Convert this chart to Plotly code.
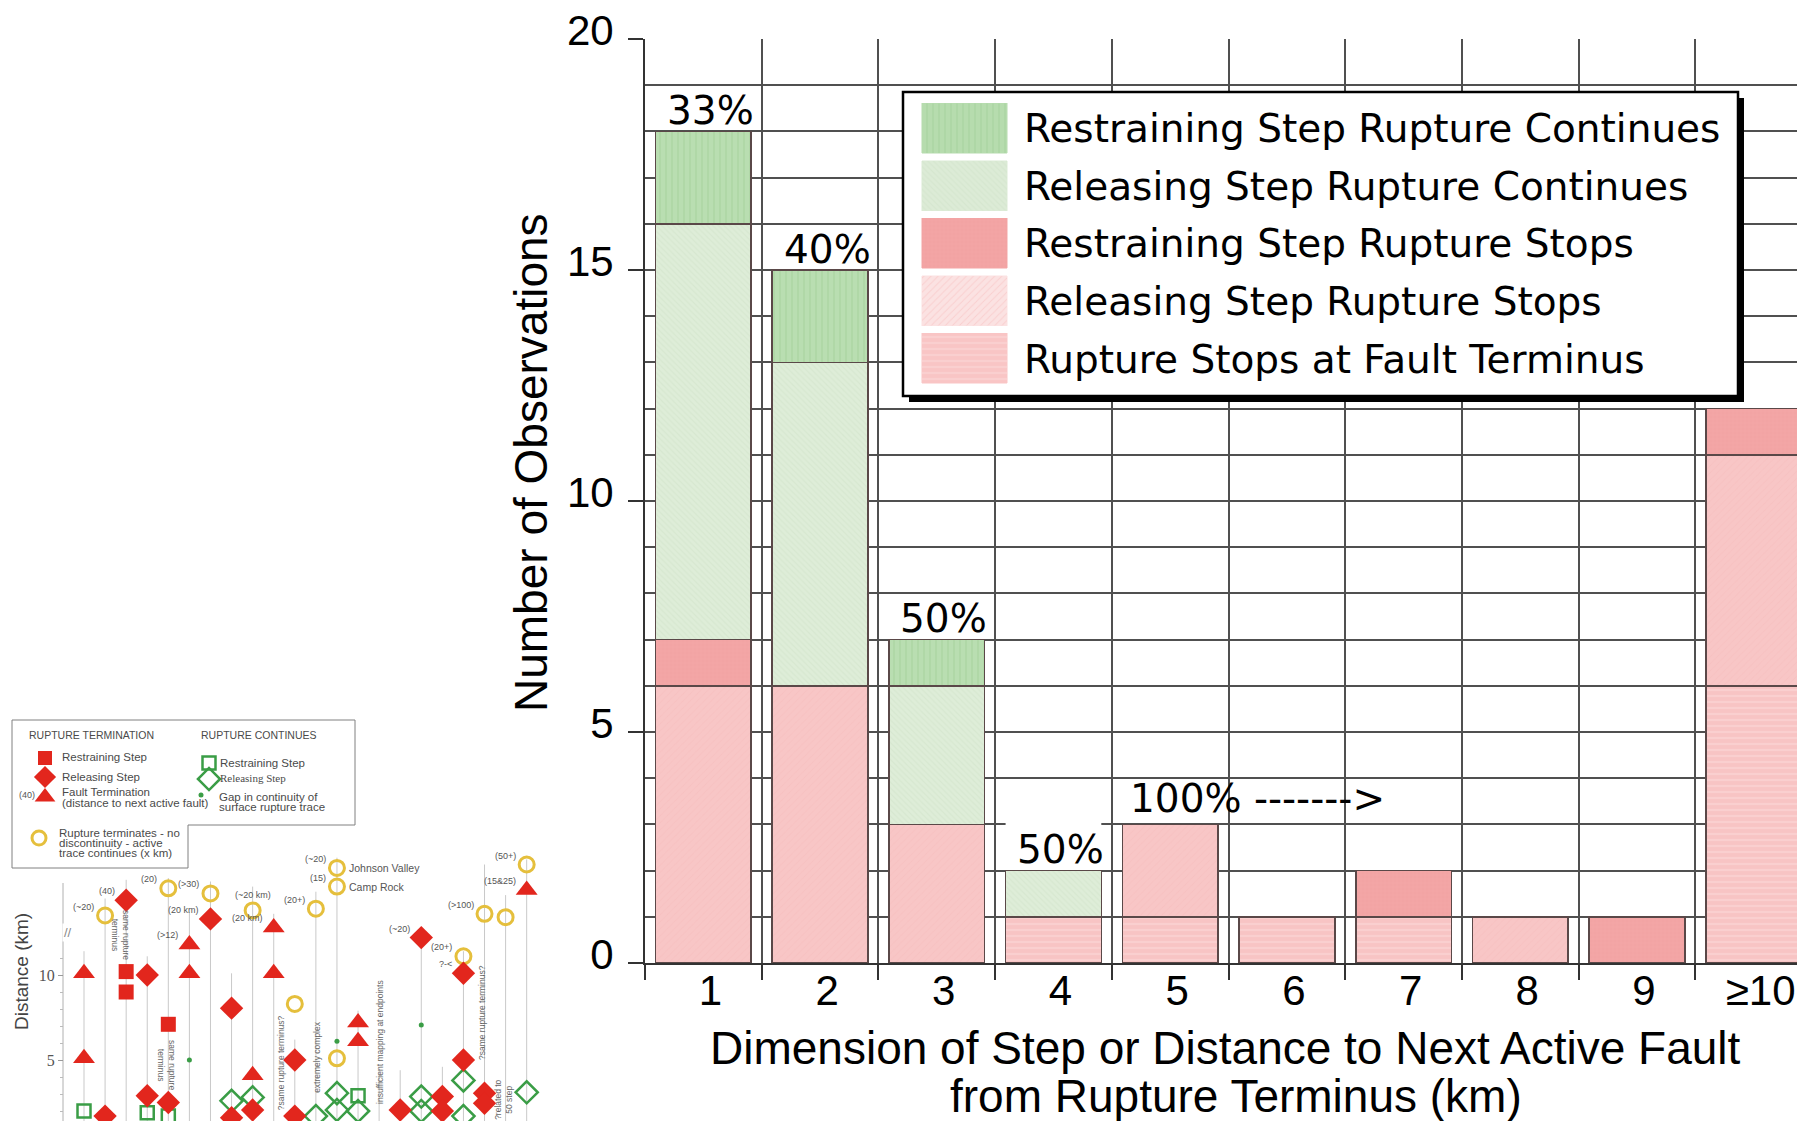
import plotly.graph_objects as go

W, H = 1805, 1121
OFF = 8  # the page body margin shifts the figure by 8 px; coordinates below are page pixels

# ---------------- main chart data ----------------
categories = ["1", "2", "3", "4", "5", "6", "7", "8", "9", "≥10"]
series_names = ["Restraining Step Rupture Continues", "Releasing Step Rupture Continues",
                "Restraining Step Rupture Stops", "Releasing Step Rupture Stops",
                "Rupture Stops at Fault Terminus"]
restraining_continues = [2, 2, 1, 0, 0, 0, 0, 0, 0, 0]
releasing_continues = [9, 7, 3, 1, 0, 0, 0, 0, 0, 0]
restraining_stops = [1, 0, 0, 0, 0, 0, 1, 0, 1, 1]
releasing_stops = [6, 6, 3, 0, 2, 0, 0, 1, 0, 5]
fault_terminus = [0, 0, 0, 1, 1, 1, 1, 0, 0, 6]
pct_labels = ["33%", "40%", "50%", "50%", "100% ------->"]
pct_categories = ["1", "2", "3", "4", "5"]
y_ticks = [0, 5, 10, 15, 20]

# ---------------- inset chart data (distance, km) ----------------
n_cols = 22
line_tops = [11.4, 14.5, 15.6, 11.1, 15.7, 13.7, 15.5, 10.1, 15.2, 13.6, 6.2,
             14.9, 16.9, 7.9, 4.5, 4.4, 12.7, 4.6, 11.4, 16.5, 14.7, 16.8]
term_restraining_col = [3, 3, 5]
term_restraining_km = [10.2, 9.0, 7.1]
term_releasing_col = [2, 3, 4, 4, 5, 7, 8, 8, 9, 11, 11, 16, 17, 18, 18, 19, 19, 20, 20]
term_releasing_km = [1.7, 14.4, 10.0, 2.9, 2.5, 13.3, 8.05, 1.6, 2.06, 5.0, 1.7, 2.06,
                     12.2, 2.85, 2.0, 10.1, 5.0, 3.04, 2.45]
fault_term_col = [1, 1, 6, 6, 9, 10, 10, 14, 14, 22]
fault_term_km = [10.1, 5.1, 11.8, 10.1, 4.1, 12.8, 10.1, 7.2, 6.1, 15.0]
no_disc_col = [2, 5, 7, 9, 11, 12, 13, 13, 13, 19, 20, 21, 22]
no_disc_km = [13.5, 15.1, 14.8, 13.8, 8.3, 13.9, 16.3, 15.2, 5.1, 11.1, 13.6, 13.4, 16.5]
cont_restraining_col = [1, 4, 5, 14]
cont_restraining_km = [2.0, 1.9, 1.7, 2.9]
cont_releasing_col = [8, 9, 12, 13, 13, 14, 17, 17, 19, 19, 22]
cont_releasing_km = [2.6, 2.8, 1.7, 3.05, 2.06, 2.0, 2.85, 2.0, 3.8, 1.7, 3.1]
gap_col = [6, 13, 17]
gap_km = [5.0, 6.1, 7.06]
marker_notes = ["(~20)", "(40)", "(20)", "(>12)", "(>30)", "(20 km)", "(~20 km)", "(20 km)",
                "(20+)", "(~20)", "(15)", "(~20)", "(20+)", "?-<", "(>100)", "(15&25)", "(50+)"]
note_col = [2, 3, 5, 6, 7, 7, 9, 10, 12, 13, 13, 17, 19, 19, 20, 22, 22]
note_km = [13.5, 14.4, 15.1, 11.8, 14.8, 13.3, 13.8, 12.8, 13.9, 16.3, 15.2, 12.2, 11.1,
           10.1, 13.6, 15.0, 16.5]
note_above = [False, False, False, False, False, False, True, False, False, False, False,
              False, False, False, False, False, False]
site_names = ["Johnson Valley", "Camp Rock"]
site_col = [13, 13]
site_km = [16.3, 15.2]
comments = ["same rupture<br>terminus", "same rupture<br>terminus", "?same rupture terminus?",
            "extremely complex", "insufficient mapping at endpoints",
            "?same rupture terminus?", "?related to<br>50 step"]
comment_col = [2.76, 4.94, 10.35, 12.05, 15.04, 19.88, 20.92]
comment_km = [12.35, 4.7, 4.82, 5.18, 6.06, 7.82, 2.65]
comment_angle = [90, 90, -90, -90, -90, -90, -90]
inset_yticks = [5, 10]

# ---------------- helpers ----------------
def px(x):
    return (x - OFF) / W


def py(y):
    return 1 - (y - OFF) / H


# main plot geometry (page pixels)
MX0, CAT = 645, 116.7
MY0, MY1 = 963, 39
# inset geometry (page pixels)
COL1_X, COL_DX = 84.0, 21.08
KM0_Y, KM_DY = 1145.0, 17.0


def icol(xp):
    return 1 + (xp - COL1_X) / COL_DX


def ikm(yp):
    return (KM0_Y - yp) / KM_DY


fig = go.Figure()

edge = "#5a4848"
styles = {
    "Rupture Stops at Fault Terminus": dict(color="#f8c4c4", shape="-", fg="#fbd9d9", size=6, sol=0.35),
    "Releasing Step Rupture Stops": dict(color="#f8c6c6", shape="/", fg="#f6bdbd", size=5, sol=0.2),
    "Restraining Step Rupture Stops": dict(color="#f3a6a6", shape="+", fg="#ec9797", size=4, sol=0.25),
    "Releasing Step Rupture Continues": dict(color="#deedd8", shape="\\", fg="#cfe2c8", size=4, sol=0.3),
    "Restraining Step Rupture Continues": dict(color="#b9deb1", shape="|", fg="#a4d19b", size=6, sol=0.3),
}
legend_swatch_color = {
    "Rupture Stops at Fault Terminus": "#f9c5c5",
    "Releasing Step Rupture Stops": "#fbe2e2",
    "Restraining Step Rupture Stops": "#f3a5a5",
    "Releasing Step Rupture Continues": "#dcebd6",
    "Restraining Step Rupture Continues": "#b6dcae",
}

stack = [("Rupture Stops at Fault Terminus", fault_terminus),
         ("Releasing Step Rupture Stops", releasing_stops),
         ("Restraining Step Rupture Stops", restraining_stops),
         ("Releasing Step Rupture Continues", releasing_continues),
         ("Restraining Step Rupture Continues", restraining_continues)]

for name, vals in stack:
    st = styles[name]
    fig.add_trace(go.Bar(
        x=categories, y=[v if v else None for v in vals], name=name, width=0.82,
        marker=dict(color=st["color"], line=dict(color=edge, width=1.6),
                    pattern=dict(shape=st["shape"], fgcolor=st["fg"], bgcolor=st["color"],
                                 size=st["size"], solidity=st["sol"])),
        xaxis="x", yaxis="y", showlegend=False, hoverinfo="skip"))

totals = [sum(v) for v in zip(fault_terminus, releasing_stops, restraining_stops,
                               releasing_continues, restraining_continues)]

annotations = []
shapes = []
for lab, cat in zip(pct_labels, pct_categories):
    i = categories.index(cat)
    if lab.startswith("100%"):
        annotations.append(dict(x=i - 0.36, y=totals[i] + 0.57, xref="x", yref="y", text=lab,
                                showarrow=False, xanchor="left", yanchor="middle",
                                font=dict(family="DejaVu Sans", size=39, color="black")))
    else:
        annotations.append(dict(x=i + 0.06, y=totals[i] + 0.45, xref="x", yref="y", text=lab,
                                showarrow=False, xanchor="center", yanchor="middle",
                                font=dict(family="DejaVu Sans", size=39, color="black")))
# white box behind the 50% label of bar 4
i4 = categories.index("4")
shapes.append(dict(type="rect", xref="x", yref="y", x0=i4 - 0.41, x1=i4 + 0.41,
                   y0=totals[i4], y1=totals[i4] + 1.25, fillcolor="white",
                   line=dict(width=0), layer="between"))

# axis titles
annotations.append(dict(x=px(531), y=py(463), xref="paper", yref="paper",
                        text="Number of Observations", textangle=-90, showarrow=False,
                        xanchor="center", yanchor="middle",
                        font=dict(family="Liberation Sans, Arial", size=46, color="black")))
annotations.append(dict(x=px(1225), y=py(1020), xref="paper", yref="paper",
                        text="Dimension of Step or Distance to Next Active Fault",
                        showarrow=False, xanchor="center", yanchor="top",
                        font=dict(family="Liberation Sans, Arial", size=46, color="black")))
annotations.append(dict(x=px(1236), y=py(1068), xref="paper", yref="paper",
                        text="from Rupture Terminus (km)",
                        showarrow=False, xanchor="center", yanchor="top",
                        font=dict(family="Liberation Sans, Arial", size=46, color="black")))

# ---------------- main legend (on its own pixel axes x3/y3) ----------------
LX0, LY0, LX1, LY1 = 903, 92, 1738, 396
shapes.append(dict(type="rect", xref="x3", yref="y3", x0=LX0 + 6, y0=LY0 + 6, x1=LX1 + 6, y1=LY1 + 6,
                   fillcolor="black", line=dict(width=0), layer="between"))
shapes.append(dict(type="rect", xref="x3", yref="y3", x0=LX0, y0=LY0, x1=LX1, y1=LY1,
                   fillcolor="white", line=dict(color="black", width=2.5), layer="between"))
for k, name in enumerate(series_names):
    cy = 128 + 57.5 * k
    st = styles[name]
    sc = legend_swatch_color[name]
    fig.add_trace(go.Bar(
        x=[85.7], y=[cy], base=[921.6], width=[50], orientation="h",
        marker=dict(color=sc, line=dict(color=sc, width=0.5),
                    pattern=dict(shape=st["shape"], fgcolor=st["fg"], bgcolor=sc,
                                 size=st["size"], solidity=st["sol"])),
        xaxis="x3", yaxis="y3", showlegend=False, hoverinfo="skip"))
    annotations.append(dict(x=1021.6, y=cy + 1, xref="x3", yref="y3", text=name,
                            showarrow=False, xanchor="left", yanchor="middle",
                            font=dict(family="DejaVu Sans", size=39, color="black")))

# ---------------- inset chart ----------------
lx, ly = [], []
for c, top in zip(range(1, n_cols + 1), line_tops):
    lx += [c, c, None]
    ly += [top, ikm(1129), None]
fig.add_trace(go.Scatter(x=lx, y=ly, mode="lines", line=dict(color="#c9c9c9", width=1),
                         xaxis="x2", yaxis="y2", showlegend=False, hoverinfo="skip"))

RED, YEL, GRN = "#e2261d", "#e5bf3c", "#3a9d46"
marker_sets = [
    (no_disc_col, no_disc_km, dict(symbol="circle-open", size=15, color=YEL, line=dict(width=3, color=YEL))),
    (cont_restraining_col, cont_restraining_km, dict(symbol="square-open", size=13, color=GRN, line=dict(width=2.5, color=GRN))),
    (cont_releasing_col, cont_releasing_km, dict(symbol="diamond-open", size=17, color=GRN, line=dict(width=2.5, color=GRN))),
    (gap_col, gap_km, dict(symbol="circle", size=5, color=GRN)),
    (term_restraining_col, term_restraining_km, dict(symbol="square", size=15, color=RED)),
    (term_releasing_col, term_releasing_km, dict(symbol="diamond", size=18, color=RED)),
    (fault_term_col, fault_term_km, dict(symbol="triangle-up", size=19, color=RED)),
]
for xs, ys, mk in marker_sets:
    fig.add_trace(go.Scatter(x=xs, y=ys, mode="markers", marker=mk, xaxis="x2", yaxis="y2",
                             showlegend=False, hoverinfo="skip"))

small = dict(family="Liberation Sans, Arial", size=9, color="#555")
for t, c, k, above in zip(marker_notes, note_col, note_km, note_above):
    if above:
        annotations.append(dict(x=c, y=k, xref="x2", yref="y2", text=t, showarrow=False,
                                xanchor="center", yanchor="middle", yshift=15, font=small))
    else:
        annotations.append(dict(x=c, y=k, xref="x2", yref="y2", text=t, showarrow=False,
                                xanchor="right", yanchor="middle", xshift=-9, yshift=9, font=small))
for t, c, k in zip(site_names, site_col, site_km):
    annotations.append(dict(x=c, y=k, xref="x2", yref="y2", text=t, showarrow=False,
                            xanchor="left", yanchor="middle", xshift=10,
                            font=dict(family="Liberation Sans, Arial", size=10.5, color="#555")))
for t, c, k, a in zip(comments, comment_col, comment_km, comment_angle):
    annotations.append(dict(x=c, y=k, xref="x2", yref="y2", text=t, showarrow=False,
                            textangle=a, xanchor="center", yanchor="middle",
                            font=dict(family="Liberation Sans, Arial", size=8.5, color="#666")))
# inset distance axis line (only below the top of the column area) and its break mark
shapes.append(dict(type="line", xref="x2", yref="y2", x0=icol(63), x1=icol(63),
                   y0=ikm(1129), y1=ikm(883), line=dict(color="#b0b0b0", width=1), layer="below"))
annotations.append(dict(x=icol(68), y=ikm(932), xref="x2", yref="y2", text="//", showarrow=False,
                        bgcolor="white", font=dict(family="Liberation Sans, Arial", size=13, color="#888")))
annotations.append(dict(x=px(22), y=py(972), xref="paper", yref="paper", text="Distance (km)",
                        textangle=-90, showarrow=False, xanchor="center", yanchor="middle",
                        font=dict(family="Liberation Sans, Arial", size=19, color="#444")))

# inset legend (L-shaped box)
path = "M {a},{b} L {c},{b} L {c},{d} L {e},{d} L {e},{f} L {a},{f} Z".format(
    a=px(12), b=py(720), c=px(355), d=py(825), e=px(188), f=py(868))
shapes.append(dict(type="path", xref="paper", yref="paper", path=path,
                   line=dict(color="#808080", width=1), fillcolor="rgba(0,0,0,0)", layer="above"))
leg_font = dict(family="Liberation Sans, Arial", size=11.5, color="#4a4a4a")
head_font = dict(family="Liberation Sans, Arial", size=10.5, color="#4a4a4a")
leg_texts = [
    ("RUPTURE TERMINATION", 27, 735, head_font),
    ("RUPTURE CONTINUES", 199, 735, head_font),
    ("Restraining Step", 60, 757, leg_font),
    ("Releasing Step", 60, 777, leg_font),
    ("Fault Termination", 60, 792, leg_font),
    ("(distance to next active fault)", 60, 803, leg_font),
    ("(40)", 17, 795, small),
    ("Rupture terminates - no", 57, 833, leg_font),
    ("discontinuity - active", 57, 843, leg_font),
    ("trace continues (x km)", 57, 853, leg_font),
    ("Restraining Step", 218, 763, leg_font),
    ("Releasing Step", 218, 778, dict(family="Liberation Serif", size=11, color="#4a4a4a")),
    ("Gap in continuity of", 217, 797, leg_font),
    ("surface rupture trace", 217, 807, leg_font),
]
for t, x, y, f in leg_texts:
    annotations.append(dict(x=px(x), y=py(y), xref="paper", yref="paper", text=t, showarrow=False,
                            xanchor="left", yanchor="middle", font=f))
leg_keys = [
    (45, 758, dict(symbol="square", size=14, color=RED)),
    (45, 777, dict(symbol="diamond", size=17, color=RED)),
    (45, 797, dict(symbol="triangle-up", size=18, color=RED)),
    (39, 838, dict(symbol="circle-open", size=14, color=YEL, line=dict(width=3, color=YEL))),
    (209, 763, dict(symbol="square-open", size=13, color=GRN, line=dict(width=2.5, color=GRN))),
    (209, 779, dict(symbol="diamond-open", size=17, color=GRN, line=dict(width=2.5, color=GRN))),
    (201, 795, dict(symbol="circle", size=5, color=GRN)),
]
for x, y, mk in leg_keys:
    fig.add_trace(go.Scatter(x=[icol(x)], y=[ikm(y)], mode="markers", marker=mk,
                             xaxis="x2", yaxis="y2", showlegend=False, hoverinfo="skip"))

axis_font = dict(family="Liberation Sans, Arial", size=42, color="black")
fig.update_layout(
    width=W, height=H, margin=dict(l=0, r=0, t=0, b=0, pad=0),
    paper_bgcolor="white", plot_bgcolor="rgba(0,0,0,0)",
    barmode="stack", bargap=0.18, showlegend=False,
    xaxis=dict(domain=[px(MX0), 1.0], type="category", categoryorder="array",
               categoryarray=categories, range=[-0.5, -0.5 + (W + OFF - MX0) / CAT],
               tickson="boundaries", ticks="outside", ticklen=15, tickwidth=1.5,
               tickcolor="#333", showgrid=True, gridcolor="#505050", gridwidth=1.7,
               showline=True, linecolor="#333", linewidth=2, tickfont=axis_font,
               ticklabelshift=7, ticklabelstandoff=-10, ticklabeloverflow="allow",
               automargin=False, anchor="y"),
    yaxis=dict(domain=[py(MY0), py(MY1)], range=[0, 20], tickvals=y_ticks,
               ticks="outside", ticklen=15, tickwidth=1.5, tickcolor="#333",
               showgrid=True, gridcolor="#505050", gridwidth=1.7,
               minor=dict(dtick=1, showgrid=True, gridcolor="#505050", gridwidth=1.7, ticks=""),
               showline=True, linecolor="#333", linewidth=2, zeroline=False,
               tickfont=axis_font, ticklabelshift=-9, ticklabelstandoff=6,
               ticklabeloverflow="allow", automargin=False, anchor="x"),
    xaxis2=dict(domain=[px(OFF), px(560)], range=[icol(OFF), icol(560)], visible=False,
                anchor="y2", automargin=False),
    yaxis2=dict(domain=[py(H + OFF), py(712)], range=[ikm(H + OFF), ikm(712)],
                tickvals=inset_yticks, ticks="outside", ticklen=5, tickcolor="#999",
                showline=False, showgrid=False, zeroline=False,
                minor=dict(tickvals=[2, 3, 4, 6, 7, 8, 9, 11], ticks="outside", ticklen=3,
                           tickcolor="#bbb", showgrid=False),
                tickfont=dict(family="Liberation Serif", size=16, color="#555"),
                anchor="free", position=px(63), automargin=False),
    xaxis3=dict(domain=[px(900), px(1750)], range=[900, 1750], visible=False, anchor="y3",
                automargin=False),
    yaxis3=dict(domain=[py(406), py(88)], range=[406, 88], visible=False, anchor="x3",
                automargin=False),
    annotations=annotations, shapes=shapes,
)

fig.write_html("out.html")
